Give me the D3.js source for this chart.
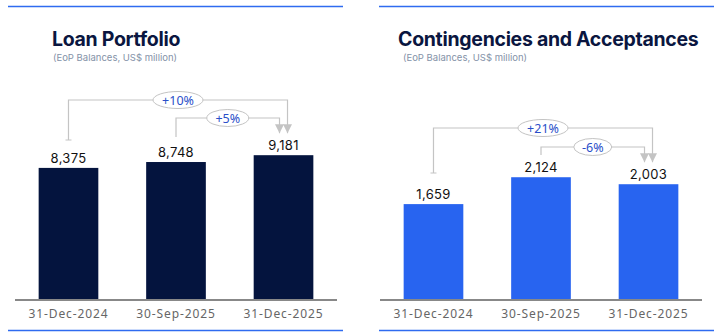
<!DOCTYPE html>
<html>
<head>
<meta charset="utf-8">
<script src="https://cdn.jsdelivr.net/npm/d3@7"></script>
<style>
  body { margin: 0; background: #fff; }
  svg { display: block; }
</style>
</head>
<body>
<div id="chart"></div>
<script>
const dates = ["31-Dec-2024", "30-Sep-2025", "31-Dec-2025"]
const loanValues = [8375, 8748, 9181]
const contValues = [1659, 2124, 2003]
const loanChanges = ["+10%", "+5%"]
const contChanges = ["+21%", "-6%"]

const width = 718, height = 336

const svg = d3.select("#chart").append("svg")
    .attr("width", width)
    .attr("height", height)

// arrow head, drawn pointing along the path direction
svg.append("defs").append("marker")
    .attr("id", "arrow")
    .attr("viewBox", "0 0 10 10")
    .attr("refX", 10).attr("refY", 5)
    .attr("markerWidth", 9).attr("markerHeight", 9)
    .attr("markerUnits", "userSpaceOnUse")
    .attr("orient", "auto")
  .append("path")
    .attr("d", "M0,0 L10,5 L0,10 Z")
    .attr("fill", "#c4c4c4")

function drawPanel(opt) {
    const g = svg.append("g")

    // blue frame lines
    g.append("line").attr("x1", opt.frame[0]).attr("x2", opt.frame[1])
        .attr("y1", 6.5).attr("y2", 6.5).attr("stroke", "#2f6bf0").attr("stroke-width", 1.5)
    g.append("line").attr("x1", opt.frame[0]).attr("x2", opt.frame[1])
        .attr("y1", 330.5).attr("y2", 330.5).attr("stroke", "#2f6bf0").attr("stroke-width", 1.5)

    g.append("text")
        .attr("x", opt.titleX).attr("y", 46)
        .attr("font-family", "Inter, sans-serif")
        .attr("font-weight", 700)
        .attr("font-size", 19.5)
        .attr("letter-spacing", -0.3)
        .attr("fill", "#0a1640")
        .text(opt.title)
    g.append("text")
        .attr("x", opt.subX).attr("y", 61)
        .attr("font-family", "Inter, sans-serif")
        .attr("font-size", 9.5)
        .attr("fill", "#8492a8")
        .text("(EoP Balances, US$ million)")

    const x = d3.scaleBand().domain(dates).range(opt.xRange).paddingInner(0.445).paddingOuter(0.22)
    const y = d3.scaleLinear().domain([0, opt.max]).range([300, 300 - opt.max / opt.perPx])

    g.selectAll(".bar").data(opt.values).enter().append("rect")
        .attr("x", (d, i) => x(dates[i]))
        .attr("y", d => y(d))
        .attr("width", x.bandwidth())
        .attr("height", d => 300 - y(d))
        .attr("fill", opt.color)

    g.selectAll(".val").data(opt.values).enter().append("text")
        .attr("x", (d, i) => x(dates[i]) + x.bandwidth() / 2)
        .attr("y", d => y(d) - 5)
        .attr("text-anchor", "middle")
        .attr("font-family", "Inter, sans-serif")
        .attr("font-size", 13)
        .attr("letter-spacing", 0.3)
        .attr("fill", "#111")
        .text(d3.format(","))

    // axis
    const axis = g.append("g").attr("transform", "translate(0,300)")
        .call(d3.axisBottom(x).tickSize(0).tickPadding(9))
    axis.select(".domain").attr("stroke", "#888").attr("stroke-width", 2)
        .attr("d", `M${opt.axisRange[0]},0H${opt.axisRange[1]}`)
    axis.selectAll("text")
        .attr("font-family", "'Noto Sans', sans-serif")
        .attr("font-size", 12)
        .attr("letter-spacing", 0.9)
        .attr("fill", "#666")

    const cx = i => x(dates[i]) + x.bandwidth() / 2
    const tipY = y(opt.values[2]) - 22

    // brackets
    const brackets = [
        { from: 0, lineY: opt.outerY, startY: opt.outerStart, dx: 4, label: opt.changes[0], w: 50 },
        { from: 1, lineY: opt.innerY, startY: opt.innerStart, dx: -4, label: opt.changes[1], w: opt.innerW }
    ]
    brackets.forEach(b => {
        const x0 = cx(b.from), x1 = cx(2) + b.dx
        g.append("path")
            .attr("d", `M${x0},${b.startY}V${b.lineY}H${x1}V${tipY}`)
            .attr("fill", "none")
            .attr("stroke", "#c4c4c4")
            .attr("stroke-width", 1.2)
            .attr("marker-end", "url(#arrow)")
        if (b.from === 0) {
            g.append("line").attr("x1", x0 - 3).attr("x2", x0 + 3)
                .attr("y1", b.startY).attr("y2", b.startY)
                .attr("stroke", "#c4c4c4").attr("stroke-width", 1)
        }
        const mx = (x0 + x1) / 2
        g.append("ellipse")
            .attr("cx", mx).attr("cy", b.lineY)
            .attr("rx", b.w / 2).attr("ry", 8.5)
            .attr("fill", "#fff")
            .attr("stroke", "#c4c4c4")
            .attr("stroke-width", 1)
        g.append("text")
            .attr("x", mx).attr("y", b.lineY + 4.5)
            .attr("text-anchor", "middle")
            .attr("font-family", "'Noto Sans', sans-serif")
            .attr("font-size", 12.5)
            .attr("fill", "#2a4fc9")
            .text(b.label)
    })
}

drawPanel({
    title: "Loan Portfolio", titleX: 52, subX: 53, frame: [8, 343], axisRange: [15, 337],
    xRange: [15, 337], values: loanValues, changes: loanChanges,
    max: 10000, perPx: 63.4, color: "#04143e",
    outerY: 100, outerStart: 140, innerY: 118, innerStart: 137, innerW: 42
})

drawPanel({
    title: "Contingencies and Acceptances", titleX: 398, subX: 403, frame: [379, 714], axisRange: [380, 702],
    xRange: [380, 702], values: contValues, changes: contChanges,
    max: 2500, perPx: 17.3, color: "#2864f0",
    outerY: 128, outerStart: 173, innerY: 147, innerStart: 155, innerW: 38
})
</script>
</body>
</html>
